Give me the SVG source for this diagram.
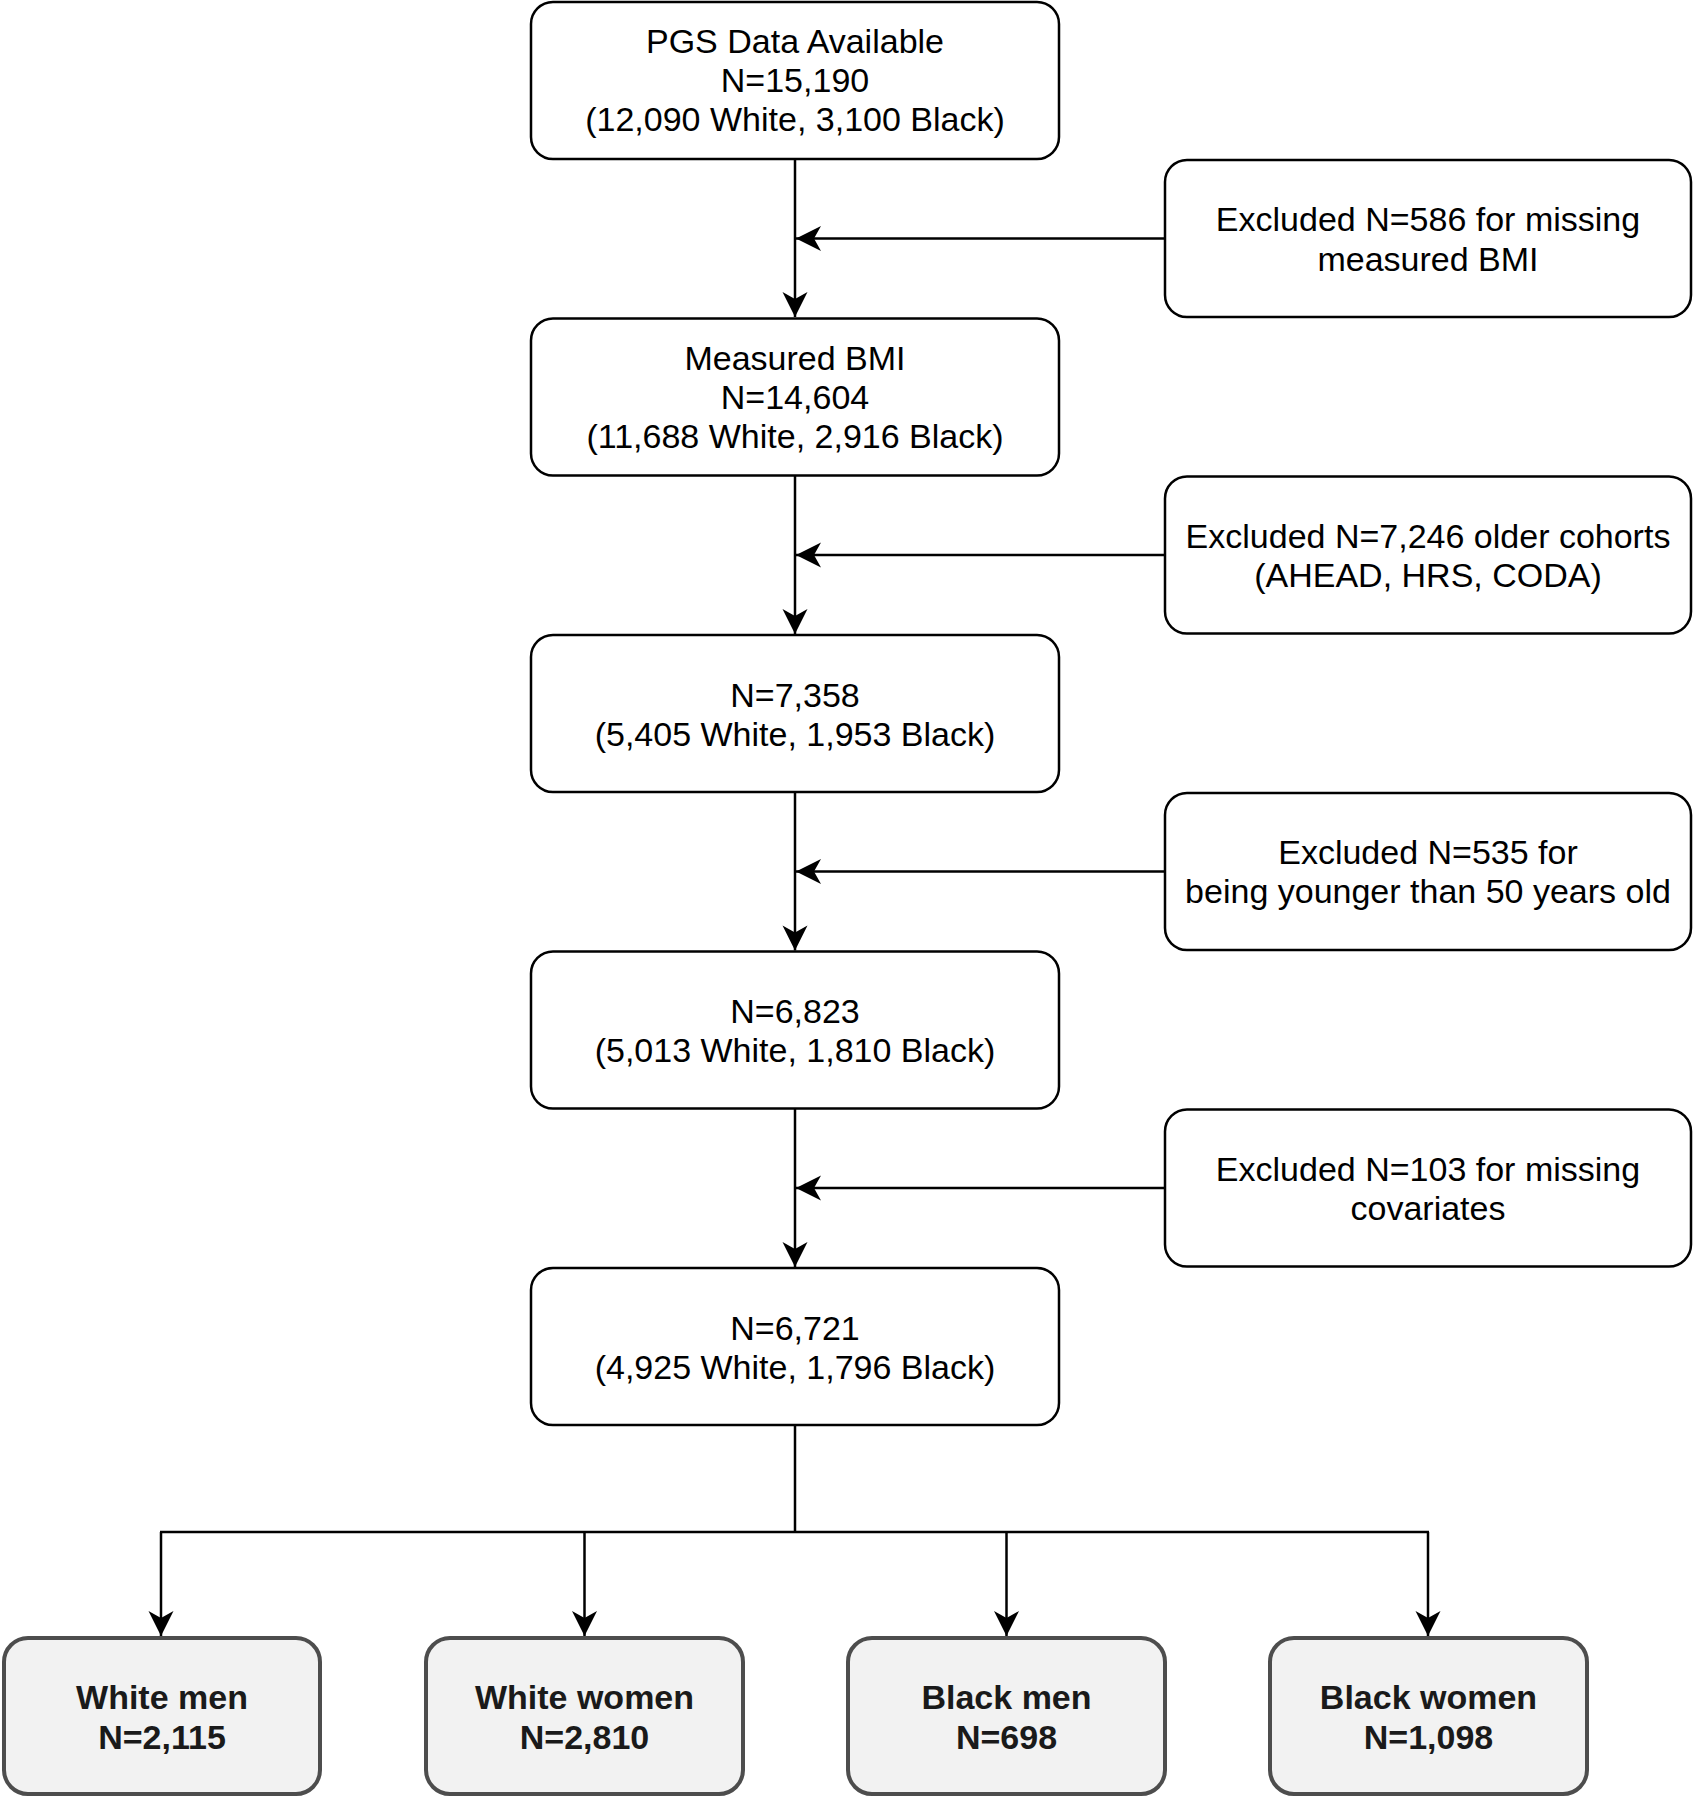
<svg xmlns="http://www.w3.org/2000/svg" width="1694" height="1800" viewBox="0 0 1694 1800">
<style>
.box{fill:#ffffff;stroke:#000000;stroke-width:2.5}
.sub{fill:#f2f2f2;stroke:#4d4d4d;stroke-width:4}
.t{font-family:"Liberation Sans",Arial,Helvetica,sans-serif;font-size:34px;fill:#000000;text-anchor:middle}
.b{font-family:"Liberation Sans",Arial,Helvetica,sans-serif;font-size:34px;font-weight:bold;fill:#1a1a1a;text-anchor:middle}
.c{fill:none;stroke:#000000;stroke-width:2.5}
</style>
<defs>
<marker id="arr" markerUnits="userSpaceOnUse" markerWidth="28" markerHeight="28" refX="25" refY="12.5" orient="auto" overflow="visible">
<path d="M25,12.5 L0,0 L7,12.5 L0,25 Z" fill="#000000"/>
</marker>
</defs>
<rect width="1694" height="1800" fill="#ffffff"/>
<g id="connectors">
<line class="c" x1="795" y1="159" x2="795" y2="317" marker-end="url(#arr)"/>
<line class="c" x1="1165" y1="238.5" x2="796" y2="238.5" marker-end="url(#arr)"/>
<line class="c" x1="795" y1="475.5" x2="795" y2="634" marker-end="url(#arr)"/>
<line class="c" x1="1165" y1="555" x2="796" y2="555" marker-end="url(#arr)"/>
<line class="c" x1="795" y1="792" x2="795" y2="950.5" marker-end="url(#arr)"/>
<line class="c" x1="1165" y1="871.5" x2="796" y2="871.5" marker-end="url(#arr)"/>
<line class="c" x1="795" y1="1108.5" x2="795" y2="1267" marker-end="url(#arr)"/>
<line class="c" x1="1165" y1="1188" x2="796" y2="1188" marker-end="url(#arr)"/>
<line class="c" x1="795" y1="1425" x2="795" y2="1532"/>
<line class="c" x1="160" y1="1532" x2="1429" y2="1532"/>
<line class="c" x1="161" y1="1532" x2="161" y2="1636" marker-end="url(#arr)"/>
<line class="c" x1="584.5" y1="1532" x2="584.5" y2="1636" marker-end="url(#arr)"/>
<line class="c" x1="1006.5" y1="1532" x2="1006.5" y2="1636" marker-end="url(#arr)"/>
<line class="c" x1="1428" y1="1532" x2="1428" y2="1636" marker-end="url(#arr)"/>
</g>
<g id="n1">
<rect class="box" x="531" y="2" width="528" height="157" rx="22"/>
<text class="t" x="795" y="53">PGS Data Available</text>
<text class="t" x="795" y="92">N=15,190</text>
<text class="t" x="795" y="131">(12,090 White, 3,100 Black)</text>
</g>
<g id="e1">
<rect class="box" x="1165" y="160" width="526" height="157" rx="22"/>
<text class="t" x="1428" y="231">Excluded N=586 for missing</text>
<text class="t" x="1428" y="271">measured BMI</text>
</g>
<g id="n2">
<rect class="box" x="531" y="318.5" width="528" height="157" rx="22"/>
<text class="t" x="795" y="370">Measured BMI</text>
<text class="t" x="795" y="409">N=14,604</text>
<text class="t" x="795" y="448">(11,688 White, 2,916 Black)</text>
</g>
<g id="e2">
<rect class="box" x="1165" y="476.5" width="526" height="157" rx="22"/>
<text class="t" x="1428" y="548">Excluded N=7,246 older cohorts</text>
<text class="t" x="1428" y="587">(AHEAD, HRS, CODA)</text>
</g>
<g id="n3">
<rect class="box" x="531" y="635" width="528" height="157" rx="22"/>
<text class="t" x="795" y="707">N=7,358</text>
<text class="t" x="795" y="746">(5,405 White, 1,953 Black)</text>
</g>
<g id="e3">
<rect class="box" x="1165" y="793" width="526" height="157" rx="22"/>
<text class="t" x="1428" y="864">Excluded N=535 for</text>
<text class="t" x="1428" y="903">being younger than 50 years old</text>
</g>
<g id="n4">
<rect class="box" x="531" y="951.5" width="528" height="157" rx="22"/>
<text class="t" x="795" y="1023">N=6,823</text>
<text class="t" x="795" y="1062">(5,013 White, 1,810 Black)</text>
</g>
<g id="e4">
<rect class="box" x="1165" y="1109.5" width="526" height="157" rx="22"/>
<text class="t" x="1428" y="1181">Excluded N=103 for missing</text>
<text class="t" x="1428" y="1220">covariates</text>
</g>
<g id="n5">
<rect class="box" x="531" y="1268" width="528" height="157" rx="22"/>
<text class="t" x="795" y="1340">N=6,721</text>
<text class="t" x="795" y="1379">(4,925 White, 1,796 Black)</text>
</g>
<g id="s1">
<rect class="sub" x="4" y="1638" width="316" height="156" rx="24"/>
<text class="b" x="162" y="1709">White men</text>
<text class="b" x="162" y="1749">N=2,115</text>
</g>
<g id="s2">
<rect class="sub" x="426" y="1638" width="317" height="156" rx="24"/>
<text class="b" x="584.5" y="1709">White women</text>
<text class="b" x="584.5" y="1749">N=2,810</text>
</g>
<g id="s3">
<rect class="sub" x="848" y="1638" width="317" height="156" rx="24"/>
<text class="b" x="1006.5" y="1709">Black men</text>
<text class="b" x="1006.5" y="1749">N=698</text>
</g>
<g id="s4">
<rect class="sub" x="1270" y="1638" width="317" height="156" rx="24"/>
<text class="b" x="1428.5" y="1709">Black women</text>
<text class="b" x="1428.5" y="1749">N=1,098</text>
</g>
</svg>
